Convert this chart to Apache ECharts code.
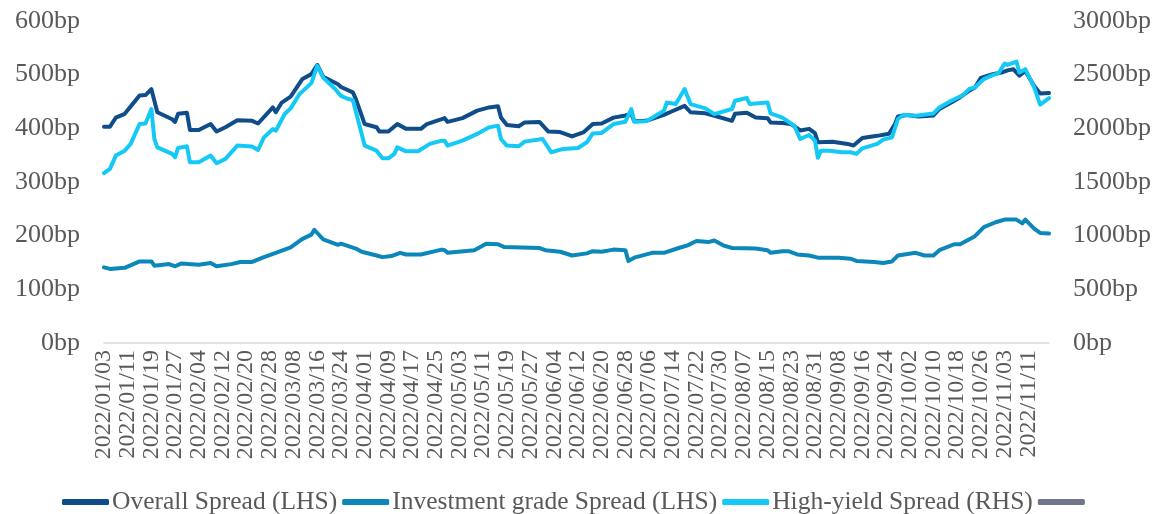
<!DOCTYPE html>
<html>
<head>
<meta charset="utf-8">
<script src="https://cdn.jsdelivr.net/npm/echarts@6/dist/echarts.min.js"></script>
<style>
  html, body { margin: 0; padding: 0; background: #fff; }
  #chart { width: 1160px; height: 514px; }
</style>
</head>
<body>
<div id="chart"></div>
<script>
// Daily category axis, 2022/01/03 – 2022/11/18
const firstDay = '2022/01/03';
const lastDay = '2022/11/18';
// A date label every 8 days
const labelStep = 8;

// Left axis (bp) and right axis (bp) tick labels
const leftTicks = [0, 100, 200, 300, 400, 500, 600];
const rightTicks = [0, 500, 1000, 1500, 2000, 2500, 3000];

// Overall spread, LHS (bp)
const overallSpread = [
  ['2022/01/03', 403], ['2022/01/05', 403], ['2022/01/07', 420], ['2022/01/10', 427],
  ['2022/01/15', 461], ['2022/01/17', 462], ['2022/01/19', 473], ['2022/01/21', 430],
  ['2022/01/26', 417], ['2022/01/27', 412], ['2022/01/28', 427], ['2022/01/31', 429],
  ['2022/02/01', 397], ['2022/02/04', 397], ['2022/02/08', 408], ['2022/02/10', 394],
  ['2022/02/13', 402], ['2022/02/17', 415], ['2022/02/22', 414], ['2022/02/24', 409],
  ['2022/03/01', 439], ['2022/03/02', 430], ['2022/03/04', 448], ['2022/03/07', 459],
  ['2022/03/11', 492], ['2022/03/14', 501], ['2022/03/16', 518], ['2022/03/18', 496],
  ['2022/03/23', 482], ['2022/03/24', 477], ['2022/03/28', 467], ['2022/03/29', 455],
  ['2022/04/01', 408], ['2022/04/05', 402], ['2022/04/06', 394], ['2022/04/09', 394],
  ['2022/04/12', 408], ['2022/04/15', 399], ['2022/04/20', 399], ['2022/04/22', 408],
  ['2022/04/27', 417], ['2022/04/28', 419], ['2022/04/29', 412], ['2022/05/04', 419],
  ['2022/05/09', 433], ['2022/05/13', 439], ['2022/05/16', 441], ['2022/05/17', 420],
  ['2022/05/19', 406], ['2022/05/23', 404], ['2022/05/25', 411], ['2022/05/30', 412],
  ['2022/06/02', 394], ['2022/06/06', 393], ['2022/06/10', 385], ['2022/06/14', 393],
  ['2022/06/17', 408], ['2022/06/20', 409], ['2022/06/24', 420], ['2022/06/28', 424],
  ['2022/06/30', 427], ['2022/07/01', 413], ['2022/07/05', 414], ['2022/07/11', 425],
  ['2022/07/13', 430], ['2022/07/18', 442], ['2022/07/20', 430], ['2022/07/25', 428],
  ['2022/07/29', 422], ['2022/08/03', 414], ['2022/08/04', 427], ['2022/08/08', 429],
  ['2022/08/11', 420], ['2022/08/15', 419], ['2022/08/16', 411], ['2022/08/20', 410],
  ['2022/08/23', 408], ['2022/08/26', 396], ['2022/08/29', 399], ['2022/08/31', 391],
  ['2022/09/01', 374], ['2022/09/06', 375], ['2022/09/11', 371], ['2022/09/13', 368],
  ['2022/09/16', 382], ['2022/09/21', 386], ['2022/09/25', 390], ['2022/09/27', 408],
  ['2022/09/28', 422], ['2022/10/01', 425], ['2022/10/05', 422], ['2022/10/10', 424],
  ['2022/10/12', 436], ['2022/10/16', 448], ['2022/10/19', 458], ['2022/10/22', 470],
  ['2022/10/24', 476], ['2022/10/26', 494], ['2022/10/30', 501], ['2022/11/02', 504],
  ['2022/11/04', 508], ['2022/11/06', 510], ['2022/11/08', 498], ['2022/11/10', 507],
  ['2022/11/13', 479], ['2022/11/15', 465], ['2022/11/18', 466]
];

// Investment grade spread, LHS (bp)
const igSpread = [
  ['2022/01/03', 141], ['2022/01/05', 138], ['2022/01/10', 140], ['2022/01/15', 152],
  ['2022/01/19', 152], ['2022/01/20', 144], ['2022/01/25', 147], ['2022/01/27', 143],
  ['2022/01/29', 148], ['2022/02/04', 146], ['2022/02/08', 149], ['2022/02/10', 143],
  ['2022/02/15', 147], ['2022/02/18', 151], ['2022/02/22', 151], ['2022/02/26', 160],
  ['2022/03/02', 168], ['2022/03/07', 178], ['2022/03/11', 194], ['2022/03/14', 202],
  ['2022/03/15', 211], ['2022/03/16', 205], ['2022/03/18', 193], ['2022/03/23', 183],
  ['2022/03/24', 185], ['2022/03/29', 176], ['2022/03/31', 170], ['2022/04/05', 163],
  ['2022/04/07', 160], ['2022/04/10', 162], ['2022/04/13', 168], ['2022/04/15', 165],
  ['2022/04/20', 165], ['2022/04/27', 174], ['2022/04/28', 173], ['2022/04/29', 168],
  ['2022/05/08', 173], ['2022/05/12', 185], ['2022/05/16', 184], ['2022/05/18', 179],
  ['2022/05/30', 177], ['2022/06/01', 173], ['2022/06/06', 170], ['2022/06/10', 163],
  ['2022/06/15', 167], ['2022/06/17', 171], ['2022/06/20', 170], ['2022/06/24', 174],
  ['2022/06/28', 173], ['2022/06/29', 153], ['2022/07/01', 159], ['2022/07/07', 168],
  ['2022/07/11', 168], ['2022/07/16', 177], ['2022/07/19', 182], ['2022/07/22', 190],
  ['2022/07/26', 188], ['2022/07/28', 191], ['2022/07/31', 182], ['2022/08/03', 177],
  ['2022/08/11', 176], ['2022/08/15', 173], ['2022/08/16', 168], ['2022/08/20', 171],
  ['2022/08/22', 171], ['2022/08/25', 165], ['2022/08/29', 163], ['2022/09/01', 159],
  ['2022/09/08', 159], ['2022/09/12', 157], ['2022/09/14', 153], ['2022/09/20', 151],
  ['2022/09/23', 149], ['2022/09/26', 152], ['2022/09/28', 163], ['2022/10/04', 168],
  ['2022/10/07', 163], ['2022/10/10', 163], ['2022/10/12', 173], ['2022/10/17', 184],
  ['2022/10/19', 184], ['2022/10/24', 199], ['2022/10/27', 216], ['2022/10/31', 225],
  ['2022/11/03', 230], ['2022/11/07', 230], ['2022/11/09', 223], ['2022/11/10', 230],
  ['2022/11/13', 213], ['2022/11/15', 205], ['2022/11/18', 204]
];

// High-yield spread, RHS (bp)
const hySpread = [
  ['2022/01/03', 1582], ['2022/01/05', 1622], ['2022/01/07', 1746], ['2022/01/10', 1792],
  ['2022/01/12', 1855], ['2022/01/15', 2040], ['2022/01/17', 2046], ['2022/01/19', 2180],
  ['2022/01/20', 1901], ['2022/01/21', 1823], ['2022/01/26', 1762], ['2022/01/27', 1730],
  ['2022/01/28', 1817], ['2022/01/31', 1833], ['2022/02/01', 1684], ['2022/02/04', 1684],
  ['2022/02/08', 1746], ['2022/02/10', 1675], ['2022/02/13', 1715], ['2022/02/17', 1839],
  ['2022/02/22', 1830], ['2022/02/24', 1799], ['2022/02/26', 1916], ['2022/03/01', 1994],
  ['2022/03/02', 1978], ['2022/03/05', 2133], ['2022/03/07', 2186], ['2022/03/10', 2319],
  ['2022/03/14', 2421], ['2022/03/16', 2582], ['2022/03/18', 2473], ['2022/03/22', 2366],
  ['2022/03/24', 2303], ['2022/03/26', 2278], ['2022/03/28', 2263], ['2022/04/01', 1839],
  ['2022/04/05', 1792], ['2022/04/07', 1721], ['2022/04/09', 1721], ['2022/04/11', 1762],
  ['2022/04/12', 1823], ['2022/04/15', 1786], ['2022/04/19', 1786], ['2022/04/23', 1855],
  ['2022/04/27', 1885], ['2022/04/28', 1885], ['2022/04/29', 1839], ['2022/05/04', 1885],
  ['2022/05/09', 1948], ['2022/05/13', 2009], ['2022/05/16', 2025], ['2022/05/17', 1901],
  ['2022/05/19', 1839], ['2022/05/23', 1833], ['2022/05/25', 1876], ['2022/05/31', 1901],
  ['2022/06/03', 1777], ['2022/06/07', 1808], ['2022/06/12', 1817], ['2022/06/15', 1870],
  ['2022/06/17', 1953], ['2022/06/20', 1957], ['2022/06/24', 2040], ['2022/06/28', 2062],
  ['2022/06/30', 2180], ['2022/07/01', 2062], ['2022/07/05', 2065], ['2022/07/11', 2164],
  ['2022/07/12', 2241], ['2022/07/15', 2226], ['2022/07/18', 2366], ['2022/07/20', 2226],
  ['2022/07/25', 2186], ['2022/07/28', 2133], ['2022/08/03', 2180], ['2022/08/04', 2257],
  ['2022/08/08', 2282], ['2022/08/09', 2226], ['2022/08/15', 2241], ['2022/08/16', 2140],
  ['2022/08/20', 2100], ['2022/08/24', 2025], ['2022/08/26', 1901], ['2022/08/29', 1938],
  ['2022/08/31', 1885], ['2022/09/01', 1725], ['2022/09/02', 1792], ['2022/09/05', 1792],
  ['2022/09/09', 1777], ['2022/09/12', 1777], ['2022/09/14', 1762], ['2022/09/16', 1814],
  ['2022/09/21', 1855], ['2022/09/23', 1895], ['2022/09/26', 1916], ['2022/09/28', 2087],
  ['2022/09/30', 2127], ['2022/10/04', 2118], ['2022/10/10', 2139], ['2022/10/12', 2195],
  ['2022/10/16', 2257], ['2022/10/20', 2310], ['2022/10/22', 2366], ['2022/10/24', 2381],
  ['2022/10/27', 2459], ['2022/10/30', 2496], ['2022/11/01', 2515], ['2022/11/03', 2603],
  ['2022/11/04', 2591], ['2022/11/07', 2622], ['2022/11/08', 2520], ['2022/11/10', 2551],
  ['2022/11/13', 2381], ['2022/11/15', 2220], ['2022/11/18', 2282]
];

const seriesNames = ['Overall Spread (LHS)', 'Investment grade Spread (LHS)', 'High-yield Spread (RHS)', ' '];
const seriesColors = ['#0E4C8A', '#0C87B9', '#14C9F6', '#707589'];

// Build the list of calendar days for the category axis
function buildDays(from, to) {
  const out = [];
  const d = new Date(from.replace(/\//g, '-') + 'T00:00:00Z');
  const end = new Date(to.replace(/\//g, '-') + 'T00:00:00Z');
  while (d <= end) {
    const m = String(d.getUTCMonth() + 1).padStart(2, '0');
    const day = String(d.getUTCDate()).padStart(2, '0');
    out.push(d.getUTCFullYear() + '/' + m + '/' + day);
    d.setUTCDate(d.getUTCDate() + 1);
  }
  return out;
}
const days = buildDays(firstDay, lastDay);

const textFont = 'Liberation Serif';
const textColor = '#595959';
const bpLabel = (v) => v + 'bp';

const chart = echarts.init(document.getElementById('chart'), null, { renderer: 'canvas' });

function lineSeries(i, data, yAxisIndex) {
  return {
    name: seriesNames[i],
    type: 'line',
    yAxisIndex: yAxisIndex,
    data: data,
    symbol: 'none',
    smooth: false,
    color: seriesColors[i],
    lineStyle: { width: 4, color: seriesColors[i], cap: 'round', join: 'round' },
    emphasis: { disabled: true },
    animation: false
  };
}

chart.setOption({
  backgroundColor: '#ffffff',
  animation: false,
  grid: { left: 104, right: 111, top: 21, bottom: 171, containLabel: false },
  legend: {
    left: 57,
    top: 484,
    icon: 'roundRect',
    itemWidth: 47,
    itemHeight: 6,
    itemGap: 5,
    data: seriesNames.map((n) => ({ name: n })),
    textStyle: { fontFamily: textFont, fontSize: 25.5, color: textColor, padding: [0, 0, 0, -2] },
    selectedMode: false
  },
  xAxis: {
    type: 'category',
    data: days,
    boundaryGap: false,
    axisLine: { show: true, lineStyle: { color: '#D9D9D9', width: 1.5 } },
    axisTick: { show: false },
    splitLine: { show: false },
    axisLabel: {
      interval: 0,
      formatter: (value, index) => (index % labelStep === 0 ? value : ''),
      rotate: 90,
      margin: 7,
      fontFamily: textFont,
      fontSize: 24,
      color: textColor
    }
  },
  yAxis: [
    {
      type: 'value',
      min: leftTicks[0],
      max: leftTicks[leftTicks.length - 1],
      interval: leftTicks[1] - leftTicks[0],
      axisLine: { show: false },
      axisTick: { show: false },
      splitLine: { show: false },
      axisLabel: {
        formatter: bpLabel,
        margin: 24,
        fontFamily: textFont,
        fontSize: 26,
        color: textColor
      }
    },
    {
      type: 'value',
      position: 'right',
      min: rightTicks[0],
      max: rightTicks[rightTicks.length - 1],
      interval: rightTicks[1] - rightTicks[0],
      axisLine: { show: false },
      axisTick: { show: false },
      splitLine: { show: false },
      axisLabel: {
        formatter: bpLabel,
        margin: 24,
        fontFamily: textFont,
        fontSize: 26,
        color: textColor
      }
    }
  ],
  series: [
    lineSeries(0, overallSpread, 0),
    lineSeries(1, igSpread, 0),
    lineSeries(2, hySpread, 1),
    lineSeries(3, [], 0)
  ]
});
</script>
</body>
</html>
